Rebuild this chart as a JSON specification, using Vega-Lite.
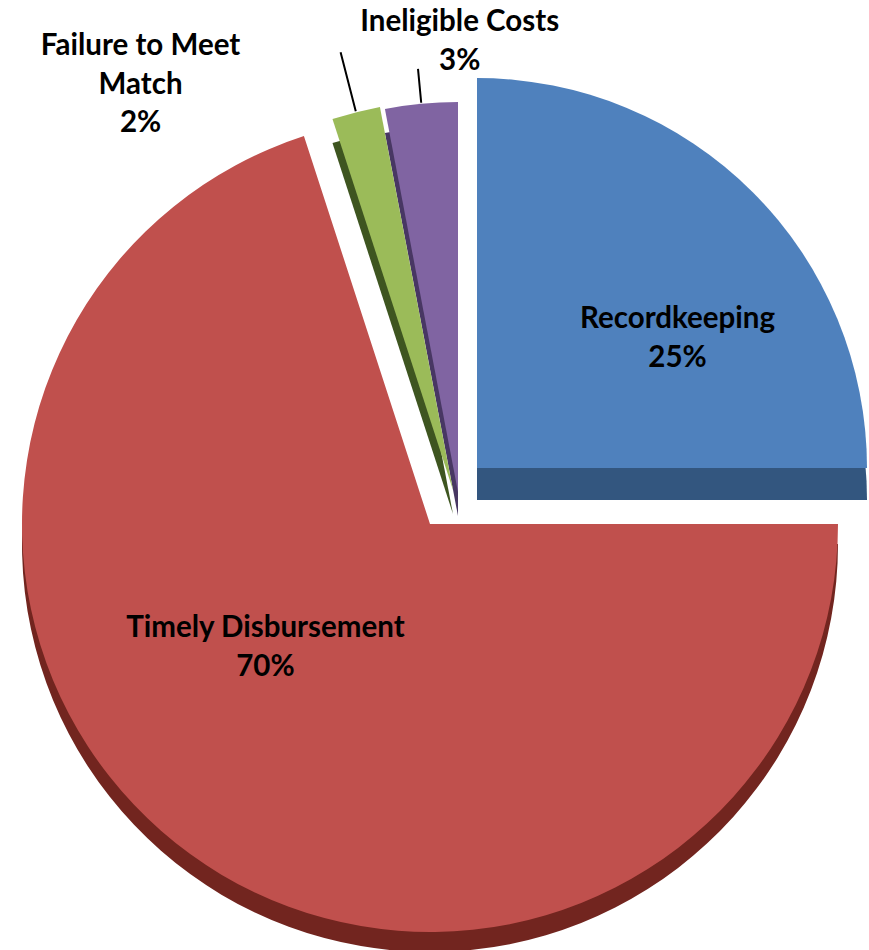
{
  "$schema": "https://vega.github.io/schema/vega-lite/v6.json",
  "width": 848,
  "height": 900,
  "autosize": {"type": "none"},
  "padding": {"left": 21, "top": 50, "right": 0, "bottom": 0},
  "background": "white",
  "config": {"view": {"stroke": null}},
  "data": {
    "values": [
      {"category": "Recordkeeping", "share": 25, "rank": 1, "label": "Recordkeeping\n25%"},
      {"category": "Timely Disbursement", "share": 70, "rank": 2, "label": "Timely Disbursement\n70%"},
      {"category": "Failure to Meet Match", "share": 2, "rank": 3, "label": "Failure to Meet\nMatch\n2%"},
      {"category": "Ineligible Costs", "share": 3, "rank": 4, "label": "Ineligible Costs\n3%"}
    ]
  },
  "encoding": {
    "theta": {"field": "share", "type": "quantitative", "stack": true},
    "order": {"field": "rank", "type": "quantitative"}
  },
  "layer": [
    {
      "description": "side wall of the exploded Timely Disbursement slice",
      "mark": {"type": "arc", "outerRadius": 408, "xOffset": -15, "yOffset": 44},
      "encoding": {"color": {"condition": {"test": "datum.rank === 2", "value": "#72251f"}, "value": "transparent"}}
    },
    {
      "description": "side wall of the Recordkeeping slice",
      "mark": {"type": "arc", "outerRadius": 390, "xOffset": 32, "yOffset": 0},
      "encoding": {"color": {"condition": {"test": "datum.rank === 1", "value": "#33567f"}, "value": "transparent"}}
    },
    {
      "description": "side wall of the Failure to Meet Match slice",
      "mark": {"type": "arc", "outerRadius": 390, "xOffset": 8, "yOffset": 14},
      "encoding": {"color": {"condition": {"test": "datum.rank === 3", "value": "#3e5520"}, "value": "transparent"}}
    },
    {
      "description": "side wall of the Ineligible Costs slice",
      "mark": {"type": "arc", "outerRadius": 390, "xOffset": 13, "yOffset": 16},
      "encoding": {"color": {"condition": {"test": "datum.rank === 4", "value": "#483763"}, "value": "transparent"}}
    },
    {
      "mark": {"type": "arc", "outerRadius": 408, "xOffset": -15, "yOffset": 24},
      "encoding": {"color": {"condition": {"test": "datum.rank === 2", "value": "#c0504d"}, "value": "transparent"}}
    },
    {
      "mark": {"type": "arc", "outerRadius": 390, "xOffset": 32, "yOffset": -32},
      "encoding": {"color": {"condition": {"test": "datum.rank === 1", "value": "#4f81bd"}, "value": "transparent"}}
    },
    {
      "mark": {"type": "arc", "outerRadius": 390, "xOffset": 8, "yOffset": -10},
      "encoding": {"color": {"condition": {"test": "datum.rank === 3", "value": "#9bbb59"}, "value": "transparent"}}
    },
    {
      "mark": {"type": "arc", "outerRadius": 390, "xOffset": 13, "yOffset": -8},
      "encoding": {"color": {"condition": {"test": "datum.rank === 4", "value": "#8064a2"}, "value": "transparent"}}
    },
    {
      "description": "leader line for Failure to Meet Match (pad angle collapses the arc onto its bisector)",
      "mark": {"type": "arc", "filled": false, "innerRadius": 391, "outerRadius": 452, "padAngle": 0.2, "xOffset": 8, "yOffset": -10, "strokeWidth": 2},
      "encoding": {"stroke": {"condition": {"test": "datum.rank === 3", "value": "#000000"}, "value": "transparent"}}
    },
    {
      "description": "leader line for Ineligible Costs",
      "mark": {"type": "arc", "filled": false, "innerRadius": 391, "outerRadius": 425, "padAngle": 0.2, "xOffset": 13, "yOffset": -8, "strokeWidth": 2},
      "encoding": {"stroke": {"condition": {"test": "datum.rank === 4", "value": "#000000"}, "value": "transparent"}}
    },
    {
      "mark": {"type": "text", "radius": 285, "dx": 31, "dy": 21, "font": "Lato", "fontWeight": "bold", "fontSize": 29.5, "lineBreak": "\n", "lineHeight": 38.5, "align": "center", "baseline": "middle", "color": "#000000"},
      "encoding": {"text": {"condition": {"test": "datum.category === 'Recordkeeping'", "field": "label"}, "value": ""}}
    },
    {
      "mark": {"type": "text", "radius": 229, "dx": -45, "dy": -57, "font": "Lato", "fontWeight": "bold", "fontSize": 29.5, "lineBreak": "\n", "lineHeight": 38.5, "align": "center", "baseline": "middle", "color": "#000000"},
      "encoding": {"text": {"condition": {"test": "datum.category === 'Timely Disbursement'", "field": "label"}, "value": ""}}
    },
    {
      "mark": {"type": "text", "radius": 460, "dx": 58, "dy": -20, "font": "Lato", "fontWeight": "bold", "fontSize": 29.5, "lineBreak": "\n", "lineHeight": 38.5, "align": "center", "baseline": "middle", "color": "#000000"},
      "encoding": {"text": {"condition": {"test": "datum.category === 'Ineligible Costs'", "field": "label"}, "value": ""}}
    },
    {
      "mark": {"type": "text", "radius": 420, "dx": -200, "dy": -47, "font": "Lato", "fontWeight": "bold", "fontSize": 29.5, "lineBreak": "\n", "lineHeight": 38.5, "align": "center", "baseline": "middle", "color": "#000000"},
      "encoding": {"text": {"condition": {"test": "datum.category === 'Failure to Meet Match'", "field": "label"}, "value": ""}}
    }
  ]
}
